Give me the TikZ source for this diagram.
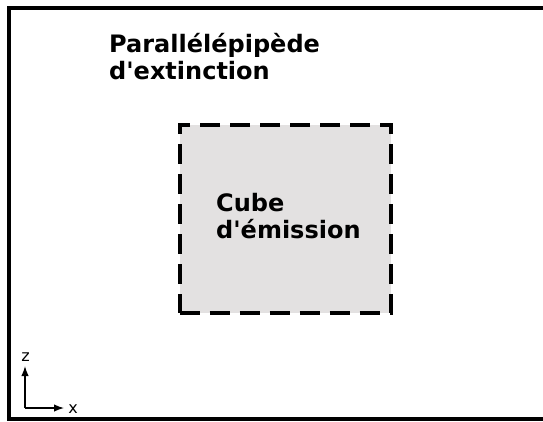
\documentclass[tikz,border=0pt]{standalone}
\usepackage{fontspec}
\setmainfont{DejaVu Sans}[Ligatures=TeXOff]
\usetikzlibrary{arrows.meta, positioning}
\definecolor{cubeGray}{HTML}{E3E1E1}
\tikzset{
  frame/.style = {
    draw=black,
    line width=4pt,
  },
  cube/.style = {
    draw=black,
    fill=cubeGray,
    line width=4pt,
    dash pattern=on 20pt off 10pt,
    rectangle,
    minimum width=211pt,
    minimum height=188.5pt,
    inner sep=0pt,
  },
  title/.style = {
    anchor=base west,
    align=left,
    inner sep=0pt,
    font=\fontsize{24pt}{27pt}\selectfont\bfseries,
  },
  axis/.style = {
    line width=1.4pt,
    -{Latex[length=10pt, width=7.5pt]},
  },
  axisLabel/.style = {
    inner sep=0pt,
    font=\fontsize{16pt}{19pt}\selectfont,
  },
}

\begin{document}
\begin{tikzpicture}[x=1pt, y=-1pt]

\useasboundingbox (0,0) rectangle (543,421);
\clip (0,0) rectangle (543,421);

% extinction box
\coordinate(FrameTop) at (560,8);
\coordinate(FrameBottom) at (560,419);
\draw[frame] (FrameTop) -| (9,419) -- (FrameBottom);
\node(Extinction)[title] at (109,79) {Parallélépipède\\d'extinction};

% emission cube
\node(Cube)[cube] at (285,218.75) {};
\node(Emission)[title] at (216,238) {Cube\\d'émission};

% axes
\coordinate(Origin) at (25,408);
\coordinate(ZTip) at (25,366);
\coordinate(XTip) at (64,408);
\draw[axis] (Origin) -- (ZTip);
\draw[axis] (Origin) -- (XTip);
\node(ZLabel)[axisLabel] at (25.5,357) {z};
\node(XLabel)[axisLabel] at (73,409) {x};

\end{tikzpicture}
\end{document}
